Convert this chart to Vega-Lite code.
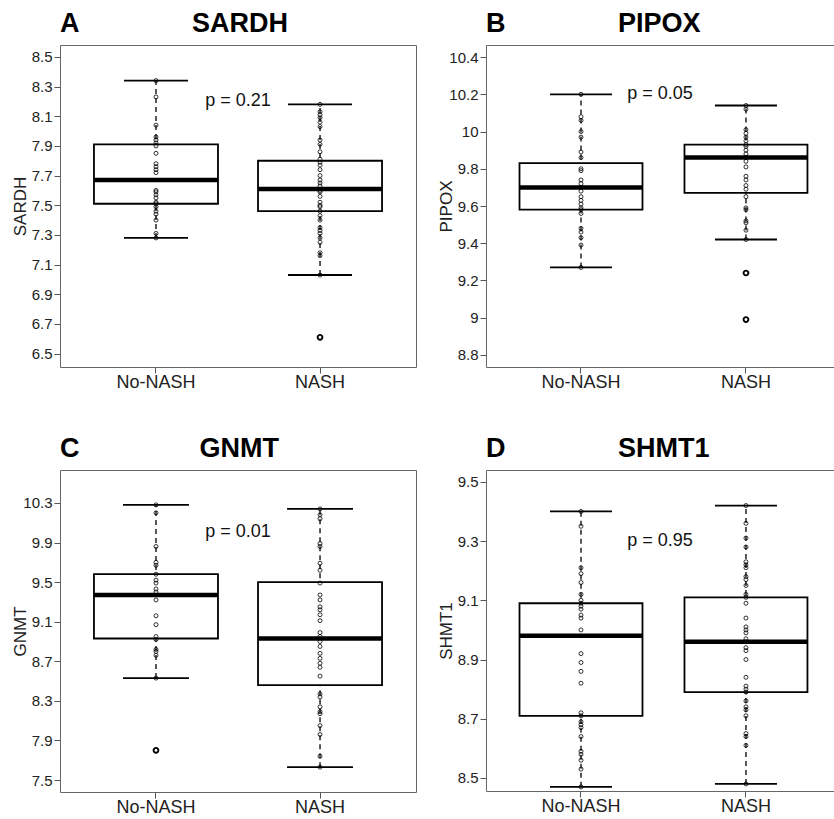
{
  "$schema": "https://vega.github.io/schema/vega-lite/v6.json",
  "padding": {"left": 10, "top": 9, "right": 0, "bottom": 0},
  "background": "white",
  "config": {
    "view": {"stroke": "#666666", "strokeWidth": 1},
    "font": "Liberation Sans",
    "tick": {"opacity": 1},
    "axis": {"grid": false, "domain": false, "tickColor": "#555555", "tickSize": 6, "tickWidth": 1, "labelColor": "#222222", "titleColor": "#222222", "labelFont": "Liberation Sans", "titleFont": "Liberation Sans"},
    "axisY": {"labelFontSize": 15, "labelPadding": 2, "titleFontSize": 17, "titleFontWeight": "normal"},
    "axisX": {"labelFontSize": 18, "labelAngle": 0, "labelPadding": 0},
    "title": {"fontSize": 27, "fontWeight": "bold", "anchor": "start", "frame": "group", "offset": 7, "color": "black", "font": "Liberation Sans"}
  },
  "datasets": {
    "box": [
      {"gene": "SARDH", "grp": "No-NASH", "lo": 7.28, "q1": 7.51, "med": 7.67, "q3": 7.91, "hi": 8.34},
      {"gene": "SARDH", "grp": "NASH", "lo": 7.03, "q1": 7.46, "med": 7.61, "q3": 7.80, "hi": 8.18},
      {"gene": "PIPOX", "grp": "No-NASH", "lo": 9.27, "q1": 9.58, "med": 9.70, "q3": 9.83, "hi": 10.20},
      {"gene": "PIPOX", "grp": "NASH", "lo": 9.42, "q1": 9.67, "med": 9.86, "q3": 9.93, "hi": 10.14},
      {"gene": "GNMT", "grp": "No-NASH", "lo": 8.53, "q1": 8.93, "med": 9.37, "q3": 9.58, "hi": 10.28},
      {"gene": "GNMT", "grp": "NASH", "lo": 7.63, "q1": 8.46, "med": 8.93, "q3": 9.50, "hi": 10.24},
      {"gene": "SHMT1", "grp": "No-NASH", "lo": 8.47, "q1": 8.71, "med": 8.98, "q3": 9.09, "hi": 9.40},
      {"gene": "SHMT1", "grp": "NASH", "lo": 8.48, "q1": 8.79, "med": 8.96, "q3": 9.11, "hi": 9.42}
    ],
    "outliers": [
      {"gene": "SARDH", "grp": "NASH", "v": 6.61},
      {"gene": "PIPOX", "grp": "NASH", "v": 9.24},
      {"gene": "PIPOX", "grp": "NASH", "v": 8.99},
      {"gene": "GNMT", "grp": "No-NASH", "v": 7.80}
    ],
    "pv": [
      {"gene": "SARDH", "y": 8.20, "label": "p = 0.21"},
      {"gene": "PIPOX", "y": 10.20, "label": "p = 0.05"},
      {"gene": "GNMT", "y": 10.01, "label": "p = 0.01"},
      {"gene": "SHMT1", "y": 9.30, "label": "p = 0.95"}
    ],
    "pts": [
      {"gene":"SARDH","grp":"No-NASH","v":8.34},{"gene":"SARDH","grp":"No-NASH","v":8.23},{"gene":"SARDH","grp":"No-NASH","v":8.04},{"gene":"SARDH","grp":"No-NASH","v":7.96},{"gene":"SARDH","grp":"No-NASH","v":7.94},{"gene":"SARDH","grp":"No-NASH","v":7.92},{"gene":"SARDH","grp":"No-NASH","v":7.90},{"gene":"SARDH","grp":"No-NASH","v":7.85},{"gene":"SARDH","grp":"No-NASH","v":7.78},{"gene":"SARDH","grp":"No-NASH","v":7.76},{"gene":"SARDH","grp":"No-NASH","v":7.74},{"gene":"SARDH","grp":"No-NASH","v":7.72},{"gene":"SARDH","grp":"No-NASH","v":7.60},{"gene":"SARDH","grp":"No-NASH","v":7.59},{"gene":"SARDH","grp":"No-NASH","v":7.57},{"gene":"SARDH","grp":"No-NASH","v":7.55},{"gene":"SARDH","grp":"No-NASH","v":7.52},{"gene":"SARDH","grp":"No-NASH","v":7.51},{"gene":"SARDH","grp":"No-NASH","v":7.49},{"gene":"SARDH","grp":"No-NASH","v":7.46},{"gene":"SARDH","grp":"No-NASH","v":7.44},{"gene":"SARDH","grp":"No-NASH","v":7.40},{"gene":"SARDH","grp":"No-NASH","v":7.31},{"gene":"SARDH","grp":"No-NASH","v":7.28},
      {"gene":"SARDH","grp":"NASH","v":8.18},{"gene":"SARDH","grp":"NASH","v":8.13},{"gene":"SARDH","grp":"NASH","v":8.11},{"gene":"SARDH","grp":"NASH","v":8.09},{"gene":"SARDH","grp":"NASH","v":8.06},{"gene":"SARDH","grp":"NASH","v":8.03},{"gene":"SARDH","grp":"NASH","v":7.94},{"gene":"SARDH","grp":"NASH","v":7.91},{"gene":"SARDH","grp":"NASH","v":7.86},{"gene":"SARDH","grp":"NASH","v":7.81},{"gene":"SARDH","grp":"NASH","v":7.79},{"gene":"SARDH","grp":"NASH","v":7.77},{"gene":"SARDH","grp":"NASH","v":7.74},{"gene":"SARDH","grp":"NASH","v":7.70},{"gene":"SARDH","grp":"NASH","v":7.67},{"gene":"SARDH","grp":"NASH","v":7.65},{"gene":"SARDH","grp":"NASH","v":7.63},{"gene":"SARDH","grp":"NASH","v":7.60},{"gene":"SARDH","grp":"NASH","v":7.59},{"gene":"SARDH","grp":"NASH","v":7.56},{"gene":"SARDH","grp":"NASH","v":7.52},{"gene":"SARDH","grp":"NASH","v":7.50},{"gene":"SARDH","grp":"NASH","v":7.49},{"gene":"SARDH","grp":"NASH","v":7.46},{"gene":"SARDH","grp":"NASH","v":7.43},{"gene":"SARDH","grp":"NASH","v":7.40},{"gene":"SARDH","grp":"NASH","v":7.35},{"gene":"SARDH","grp":"NASH","v":7.33},{"gene":"SARDH","grp":"NASH","v":7.31},{"gene":"SARDH","grp":"NASH","v":7.28},{"gene":"SARDH","grp":"NASH","v":7.25},{"gene":"SARDH","grp":"NASH","v":7.18},{"gene":"SARDH","grp":"NASH","v":7.16},{"gene":"SARDH","grp":"NASH","v":7.03},{"gene":"SARDH","grp":"NASH","v":6.61},
      {"gene":"PIPOX","grp":"No-NASH","v":10.20},{"gene":"PIPOX","grp":"No-NASH","v":10.08},{"gene":"PIPOX","grp":"No-NASH","v":10.06},{"gene":"PIPOX","grp":"No-NASH","v":10.00},{"gene":"PIPOX","grp":"No-NASH","v":9.97},{"gene":"PIPOX","grp":"No-NASH","v":9.89},{"gene":"PIPOX","grp":"No-NASH","v":9.86},{"gene":"PIPOX","grp":"No-NASH","v":9.80},{"gene":"PIPOX","grp":"No-NASH","v":9.79},{"gene":"PIPOX","grp":"No-NASH","v":9.74},{"gene":"PIPOX","grp":"No-NASH","v":9.72},{"gene":"PIPOX","grp":"No-NASH","v":9.70},{"gene":"PIPOX","grp":"No-NASH","v":9.68},{"gene":"PIPOX","grp":"No-NASH","v":9.65},{"gene":"PIPOX","grp":"No-NASH","v":9.63},{"gene":"PIPOX","grp":"No-NASH","v":9.61},{"gene":"PIPOX","grp":"No-NASH","v":9.59},{"gene":"PIPOX","grp":"No-NASH","v":9.58},{"gene":"PIPOX","grp":"No-NASH","v":9.56},{"gene":"PIPOX","grp":"No-NASH","v":9.48},{"gene":"PIPOX","grp":"No-NASH","v":9.46},{"gene":"PIPOX","grp":"No-NASH","v":9.43},{"gene":"PIPOX","grp":"No-NASH","v":9.39},{"gene":"PIPOX","grp":"No-NASH","v":9.27},
      {"gene":"PIPOX","grp":"NASH","v":10.14},{"gene":"PIPOX","grp":"NASH","v":10.12},{"gene":"PIPOX","grp":"NASH","v":10.01},{"gene":"PIPOX","grp":"NASH","v":9.99},{"gene":"PIPOX","grp":"NASH","v":9.97},{"gene":"PIPOX","grp":"NASH","v":9.95},{"gene":"PIPOX","grp":"NASH","v":9.93},{"gene":"PIPOX","grp":"NASH","v":9.92},{"gene":"PIPOX","grp":"NASH","v":9.90},{"gene":"PIPOX","grp":"NASH","v":9.88},{"gene":"PIPOX","grp":"NASH","v":9.86},{"gene":"PIPOX","grp":"NASH","v":9.84},{"gene":"PIPOX","grp":"NASH","v":9.81},{"gene":"PIPOX","grp":"NASH","v":9.76},{"gene":"PIPOX","grp":"NASH","v":9.74},{"gene":"PIPOX","grp":"NASH","v":9.71},{"gene":"PIPOX","grp":"NASH","v":9.69},{"gene":"PIPOX","grp":"NASH","v":9.65},{"gene":"PIPOX","grp":"NASH","v":9.59},{"gene":"PIPOX","grp":"NASH","v":9.58},{"gene":"PIPOX","grp":"NASH","v":9.52},{"gene":"PIPOX","grp":"NASH","v":9.51},{"gene":"PIPOX","grp":"NASH","v":9.47},{"gene":"PIPOX","grp":"NASH","v":9.42},{"gene":"PIPOX","grp":"NASH","v":9.24},{"gene":"PIPOX","grp":"NASH","v":8.99},
      {"gene":"GNMT","grp":"No-NASH","v":10.28},{"gene":"GNMT","grp":"No-NASH","v":10.20},{"gene":"GNMT","grp":"No-NASH","v":9.86},{"gene":"GNMT","grp":"No-NASH","v":9.70},{"gene":"GNMT","grp":"No-NASH","v":9.67},{"gene":"GNMT","grp":"No-NASH","v":9.58},{"gene":"GNMT","grp":"No-NASH","v":9.52},{"gene":"GNMT","grp":"No-NASH","v":9.49},{"gene":"GNMT","grp":"No-NASH","v":9.43},{"gene":"GNMT","grp":"No-NASH","v":9.40},{"gene":"GNMT","grp":"No-NASH","v":9.32},{"gene":"GNMT","grp":"No-NASH","v":9.16},{"gene":"GNMT","grp":"No-NASH","v":9.07},{"gene":"GNMT","grp":"No-NASH","v":8.95},{"gene":"GNMT","grp":"No-NASH","v":8.92},{"gene":"GNMT","grp":"No-NASH","v":8.82},{"gene":"GNMT","grp":"No-NASH","v":8.80},{"gene":"GNMT","grp":"No-NASH","v":8.76},{"gene":"GNMT","grp":"No-NASH","v":8.53},{"gene":"GNMT","grp":"No-NASH","v":7.80},
      {"gene":"GNMT","grp":"NASH","v":10.24},{"gene":"GNMT","grp":"NASH","v":10.18},{"gene":"GNMT","grp":"NASH","v":10.14},{"gene":"GNMT","grp":"NASH","v":9.89},{"gene":"GNMT","grp":"NASH","v":9.86},{"gene":"GNMT","grp":"NASH","v":9.69},{"gene":"GNMT","grp":"NASH","v":9.62},{"gene":"GNMT","grp":"NASH","v":9.49},{"gene":"GNMT","grp":"NASH","v":9.37},{"gene":"GNMT","grp":"NASH","v":9.32},{"gene":"GNMT","grp":"NASH","v":9.25},{"gene":"GNMT","grp":"NASH","v":9.22},{"gene":"GNMT","grp":"NASH","v":9.17},{"gene":"GNMT","grp":"NASH","v":9.11},{"gene":"GNMT","grp":"NASH","v":8.99},{"gene":"GNMT","grp":"NASH","v":8.95},{"gene":"GNMT","grp":"NASH","v":8.90},{"gene":"GNMT","grp":"NASH","v":8.85},{"gene":"GNMT","grp":"NASH","v":8.78},{"gene":"GNMT","grp":"NASH","v":8.73},{"gene":"GNMT","grp":"NASH","v":8.68},{"gene":"GNMT","grp":"NASH","v":8.64},{"gene":"GNMT","grp":"NASH","v":8.55},{"gene":"GNMT","grp":"NASH","v":8.37},{"gene":"GNMT","grp":"NASH","v":8.34},{"gene":"GNMT","grp":"NASH","v":8.24},{"gene":"GNMT","grp":"NASH","v":8.19},{"gene":"GNMT","grp":"NASH","v":8.17},{"gene":"GNMT","grp":"NASH","v":8.05},{"gene":"GNMT","grp":"NASH","v":7.96},{"gene":"GNMT","grp":"NASH","v":7.74},{"gene":"GNMT","grp":"NASH","v":7.63},
      {"gene":"SHMT1","grp":"No-NASH","v":9.40},{"gene":"SHMT1","grp":"No-NASH","v":9.35},{"gene":"SHMT1","grp":"No-NASH","v":9.21},{"gene":"SHMT1","grp":"No-NASH","v":9.19},{"gene":"SHMT1","grp":"No-NASH","v":9.16},{"gene":"SHMT1","grp":"No-NASH","v":9.12},{"gene":"SHMT1","grp":"No-NASH","v":9.10},{"gene":"SHMT1","grp":"No-NASH","v":9.09},{"gene":"SHMT1","grp":"No-NASH","v":9.08},{"gene":"SHMT1","grp":"No-NASH","v":9.07},{"gene":"SHMT1","grp":"No-NASH","v":9.05},{"gene":"SHMT1","grp":"No-NASH","v":9.04},{"gene":"SHMT1","grp":"No-NASH","v":9.00},{"gene":"SHMT1","grp":"No-NASH","v":8.92},{"gene":"SHMT1","grp":"No-NASH","v":8.89},{"gene":"SHMT1","grp":"No-NASH","v":8.86},{"gene":"SHMT1","grp":"No-NASH","v":8.82},{"gene":"SHMT1","grp":"No-NASH","v":8.72},{"gene":"SHMT1","grp":"No-NASH","v":8.71},{"gene":"SHMT1","grp":"No-NASH","v":8.69},{"gene":"SHMT1","grp":"No-NASH","v":8.68},{"gene":"SHMT1","grp":"No-NASH","v":8.67},{"gene":"SHMT1","grp":"No-NASH","v":8.64},{"gene":"SHMT1","grp":"No-NASH","v":8.59},{"gene":"SHMT1","grp":"No-NASH","v":8.58},{"gene":"SHMT1","grp":"No-NASH","v":8.56},{"gene":"SHMT1","grp":"No-NASH","v":8.53},{"gene":"SHMT1","grp":"No-NASH","v":8.47},
      {"gene":"SHMT1","grp":"NASH","v":9.42},{"gene":"SHMT1","grp":"NASH","v":9.36},{"gene":"SHMT1","grp":"NASH","v":9.31},{"gene":"SHMT1","grp":"NASH","v":9.28},{"gene":"SHMT1","grp":"NASH","v":9.23},{"gene":"SHMT1","grp":"NASH","v":9.22},{"gene":"SHMT1","grp":"NASH","v":9.21},{"gene":"SHMT1","grp":"NASH","v":9.18},{"gene":"SHMT1","grp":"NASH","v":9.17},{"gene":"SHMT1","grp":"NASH","v":9.15},{"gene":"SHMT1","grp":"NASH","v":9.12},{"gene":"SHMT1","grp":"NASH","v":9.11},{"gene":"SHMT1","grp":"NASH","v":9.09},{"gene":"SHMT1","grp":"NASH","v":9.04},{"gene":"SHMT1","grp":"NASH","v":9.01},{"gene":"SHMT1","grp":"NASH","v":9.00},{"gene":"SHMT1","grp":"NASH","v":8.99},{"gene":"SHMT1","grp":"NASH","v":8.97},{"gene":"SHMT1","grp":"NASH","v":8.96},{"gene":"SHMT1","grp":"NASH","v":8.94},{"gene":"SHMT1","grp":"NASH","v":8.93},{"gene":"SHMT1","grp":"NASH","v":8.90},{"gene":"SHMT1","grp":"NASH","v":8.84},{"gene":"SHMT1","grp":"NASH","v":8.81},{"gene":"SHMT1","grp":"NASH","v":8.80},{"gene":"SHMT1","grp":"NASH","v":8.79},{"gene":"SHMT1","grp":"NASH","v":8.76},{"gene":"SHMT1","grp":"NASH","v":8.74},{"gene":"SHMT1","grp":"NASH","v":8.73},{"gene":"SHMT1","grp":"NASH","v":8.71},{"gene":"SHMT1","grp":"NASH","v":8.65},{"gene":"SHMT1","grp":"NASH","v":8.64},{"gene":"SHMT1","grp":"NASH","v":8.61},{"gene":"SHMT1","grp":"NASH","v":8.48}
    ]
  },
  "concat": [
    {
      "width": 356, "height": 322,
      "title": {"text": "A\u00a0\u00a0\u00a0\u00a0\u00a0\u00a0\u00a0\u00a0\u00a0\u00a0\u00a0\u00a0\u00a0\u00a0\u00a0SARDH"},
      "resolve": {"scale": {"x": "independent"}, "axis": {"x": "independent"}},
      "layer": [
        {
          "encoding": {"x": {"field": "grp", "type": "nominal", "sort": ["No-NASH", "NASH"], "scale": {"domain": ["No-NASH", "NASH"], "paddingInner": 0.244, "paddingOuter": 0.207}, "axis": {"title": null}}},
          "layer": [
            {"data": {"name": "box"}, "transform": [{"filter": "datum.gene === 'SARDH'"}], "mark": {"type": "rule", "strokeDash": [5, 4], "strokeWidth": 1.3, "color": "black"},
             "encoding": {"y": {"field": "lo", "type": "quantitative", "scale": {"domain": [6.41, 8.58], "nice": false, "zero": false}, "axis": {"title": "SARDH", "values": [6.5, 6.7, 6.9, 7.1, 7.3, 7.5, 7.7, 7.9, 8.1, 8.3, 8.5], "format": ".1f", "titleX": -35, "titleBaseline": "alphabetic"}}, "y2": {"field": "hi"}}},
            {"data": {"name": "box"}, "transform": [{"filter": "datum.gene === 'SARDH'"}], "mark": {"type": "bar", "fill": "white", "stroke": "black", "strokeWidth": 1.8},
             "encoding": {"y": {"field": "q1", "type": "quantitative", "scale": {"domain": [6.41, 8.58], "nice": false, "zero": false}, "axis": {"title": "SARDH", "values": [6.5, 6.7, 6.9, 7.1, 7.3, 7.5, 7.7, 7.9, 8.1, 8.3, 8.5], "format": ".1f", "titleX": -35, "titleBaseline": "alphabetic"}}, "y2": {"field": "q3"}}},
            {"data": {"name": "box"}, "transform": [{"filter": "datum.gene === 'SARDH'"}], "mark": {"type": "tick", "size": 64, "thickness": 1.8, "color": "black", "opacity": 1},
             "encoding": {"y": {"field": "lo", "type": "quantitative", "scale": {"domain": [6.41, 8.58], "nice": false, "zero": false}, "axis": {"title": "SARDH", "values": [6.5, 6.7, 6.9, 7.1, 7.3, 7.5, 7.7, 7.9, 8.1, 8.3, 8.5], "format": ".1f", "titleX": -35, "titleBaseline": "alphabetic"}}}},
            {"data": {"name": "box"}, "transform": [{"filter": "datum.gene === 'SARDH'"}], "mark": {"type": "tick", "size": 64, "thickness": 1.8, "color": "black", "opacity": 1},
             "encoding": {"y": {"field": "hi", "type": "quantitative", "scale": {"domain": [6.41, 8.58], "nice": false, "zero": false}, "axis": {"title": "SARDH", "values": [6.5, 6.7, 6.9, 7.1, 7.3, 7.5, 7.7, 7.9, 8.1, 8.3, 8.5], "format": ".1f", "titleX": -35, "titleBaseline": "alphabetic"}}}},
            {"data": {"name": "box"}, "transform": [{"filter": "datum.gene === 'SARDH'"}], "mark": {"type": "tick", "size": 124, "thickness": 4.5, "color": "black", "opacity": 1},
             "encoding": {"y": {"field": "med", "type": "quantitative", "scale": {"domain": [6.41, 8.58], "nice": false, "zero": false}, "axis": {"title": "SARDH", "values": [6.5, 6.7, 6.9, 7.1, 7.3, 7.5, 7.7, 7.9, 8.1, 8.3, 8.5], "format": ".1f", "titleX": -35, "titleBaseline": "alphabetic"}}}},
            {"data": {"name": "pts"}, "transform": [{"filter": "datum.gene === 'SARDH'"}], "mark": {"type": "point", "shape": "circle", "filled": false, "size": 16, "strokeWidth": 0.8, "color": "black", "opacity": 1},
             "encoding": {"y": {"field": "v", "type": "quantitative", "scale": {"domain": [6.41, 8.58], "nice": false, "zero": false}, "axis": {"title": "SARDH", "values": [6.5, 6.7, 6.9, 7.1, 7.3, 7.5, 7.7, 7.9, 8.1, 8.3, 8.5], "format": ".1f", "titleX": -35, "titleBaseline": "alphabetic"}}}},
            {"data": {"name": "outliers"}, "transform": [{"filter": "datum.gene === 'SARDH'"}], "mark": {"type": "point", "shape": "circle", "filled": false, "size": 26, "strokeWidth": 1.6, "color": "black", "opacity": 1},
             "encoding": {"y": {"field": "v", "type": "quantitative", "scale": {"domain": [6.41, 8.58], "nice": false, "zero": false}, "axis": {"title": "SARDH", "values": [6.5, 6.7, 6.9, 7.1, 7.3, 7.5, 7.7, 7.9, 8.1, 8.3, 8.5], "format": ".1f", "titleX": -35, "titleBaseline": "alphabetic"}}}}
          ]
        },
        {"data": {"name": "pv"}, "transform": [{"filter": "datum.gene === 'SARDH'"}], "mark": {"type": "text", "fontSize": 18, "font": "Liberation Sans", "color": "#111111"},
         "encoding": {"x": {"datum": 0.5, "type": "quantitative", "scale": {"domain": [0, 1]}, "axis": null}, "y": {"field": "y", "type": "quantitative", "scale": {"domain": [6.41, 8.58], "nice": false, "zero": false}, "axis": {"title": "SARDH", "values": [6.5, 6.7, 6.9, 7.1, 7.3, 7.5, 7.7, 7.9, 8.1, 8.3, 8.5], "format": ".1f", "titleX": -35, "titleBaseline": "alphabetic"}}, "text": {"field": "label"}}}
      ]
    },
    {
      "width": 348, "height": 322,
      "title": {"text": "B\u00a0\u00a0\u00a0\u00a0\u00a0\u00a0\u00a0\u00a0\u00a0\u00a0\u00a0\u00a0\u00a0\u00a0\u00a0PIPOX"},
      "resolve": {"scale": {"x": "independent"}, "axis": {"x": "independent"}},
      "layer": [
        {
          "encoding": {"x": {"field": "grp", "type": "nominal", "sort": ["No-NASH", "NASH"], "scale": {"domain": ["No-NASH", "NASH"], "paddingInner": 0.2545, "paddingOuter": 0.182, "align": 0.558}, "axis": {"title": null}}},
          "layer": [
            {"data": {"name": "box"}, "transform": [{"filter": "datum.gene === 'PIPOX'"}], "mark": {"type": "rule", "strokeDash": [5, 4], "strokeWidth": 1.3, "color": "black"},
             "encoding": {"y": {"field": "lo", "type": "quantitative", "scale": {"domain": [8.735, 10.465], "nice": false, "zero": false}, "axis": {"title": "PIPOX", "values": [8.8, 9, 9.2, 9.4, 9.6, 9.8, 10, 10.2, 10.4], "format": ".1~f", "titleX": -35, "titleBaseline": "alphabetic"}}, "y2": {"field": "hi"}}},
            {"data": {"name": "box"}, "transform": [{"filter": "datum.gene === 'PIPOX'"}], "mark": {"type": "bar", "fill": "white", "stroke": "black", "strokeWidth": 1.8},
             "encoding": {"y": {"field": "q1", "type": "quantitative", "scale": {"domain": [8.735, 10.465], "nice": false, "zero": false}, "axis": {"title": "PIPOX", "values": [8.8, 9, 9.2, 9.4, 9.6, 9.8, 10, 10.2, 10.4], "format": ".1~f", "titleX": -35, "titleBaseline": "alphabetic"}}, "y2": {"field": "q3"}}},
            {"data": {"name": "box"}, "transform": [{"filter": "datum.gene === 'PIPOX'"}], "mark": {"type": "tick", "size": 62, "thickness": 1.8, "color": "black", "opacity": 1},
             "encoding": {"y": {"field": "lo", "type": "quantitative", "scale": {"domain": [8.735, 10.465], "nice": false, "zero": false}, "axis": {"title": "PIPOX", "values": [8.8, 9, 9.2, 9.4, 9.6, 9.8, 10, 10.2, 10.4], "format": ".1~f", "titleX": -35, "titleBaseline": "alphabetic"}}}},
            {"data": {"name": "box"}, "transform": [{"filter": "datum.gene === 'PIPOX'"}], "mark": {"type": "tick", "size": 62, "thickness": 1.8, "color": "black", "opacity": 1},
             "encoding": {"y": {"field": "hi", "type": "quantitative", "scale": {"domain": [8.735, 10.465], "nice": false, "zero": false}, "axis": {"title": "PIPOX", "values": [8.8, 9, 9.2, 9.4, 9.6, 9.8, 10, 10.2, 10.4], "format": ".1~f", "titleX": -35, "titleBaseline": "alphabetic"}}}},
            {"data": {"name": "box"}, "transform": [{"filter": "datum.gene === 'PIPOX'"}], "mark": {"type": "tick", "size": 123, "thickness": 4.5, "color": "black", "opacity": 1},
             "encoding": {"y": {"field": "med", "type": "quantitative", "scale": {"domain": [8.735, 10.465], "nice": false, "zero": false}, "axis": {"title": "PIPOX", "values": [8.8, 9, 9.2, 9.4, 9.6, 9.8, 10, 10.2, 10.4], "format": ".1~f", "titleX": -35, "titleBaseline": "alphabetic"}}}},
            {"data": {"name": "pts"}, "transform": [{"filter": "datum.gene === 'PIPOX'"}], "mark": {"type": "point", "shape": "circle", "filled": false, "size": 16, "strokeWidth": 0.8, "color": "black", "opacity": 1},
             "encoding": {"y": {"field": "v", "type": "quantitative", "scale": {"domain": [8.735, 10.465], "nice": false, "zero": false}, "axis": {"title": "PIPOX", "values": [8.8, 9, 9.2, 9.4, 9.6, 9.8, 10, 10.2, 10.4], "format": ".1~f", "titleX": -35, "titleBaseline": "alphabetic"}}}},
            {"data": {"name": "outliers"}, "transform": [{"filter": "datum.gene === 'PIPOX'"}], "mark": {"type": "point", "shape": "circle", "filled": false, "size": 26, "strokeWidth": 1.6, "color": "black", "opacity": 1},
             "encoding": {"y": {"field": "v", "type": "quantitative", "scale": {"domain": [8.735, 10.465], "nice": false, "zero": false}, "axis": {"title": "PIPOX", "values": [8.8, 9, 9.2, 9.4, 9.6, 9.8, 10, 10.2, 10.4], "format": ".1~f", "titleX": -35, "titleBaseline": "alphabetic"}}}}
          ]
        },
        {"data": {"name": "pv"}, "transform": [{"filter": "datum.gene === 'PIPOX'"}], "mark": {"type": "text", "fontSize": 18, "font": "Liberation Sans", "color": "#111111"},
         "encoding": {"x": {"datum": 0.5, "type": "quantitative", "scale": {"domain": [0, 1]}, "axis": null}, "y": {"field": "y", "type": "quantitative", "scale": {"domain": [8.735, 10.465], "nice": false, "zero": false}, "axis": {"title": "PIPOX", "values": [8.8, 9, 9.2, 9.4, 9.6, 9.8, 10, 10.2, 10.4], "format": ".1~f", "titleX": -35, "titleBaseline": "alphabetic"}}, "text": {"field": "label"}}}
      ]
    },
    {
      "width": 356, "height": 322,
      "title": {"text": "C\u00a0\u00a0\u00a0\u00a0\u00a0\u00a0\u00a0\u00a0\u00a0\u00a0\u00a0\u00a0\u00a0\u00a0\u00a0\u00a0GNMT"},
      "resolve": {"scale": {"x": "independent"}, "axis": {"x": "independent"}},
      "layer": [
        {
          "encoding": {"x": {"field": "grp", "type": "nominal", "sort": ["No-NASH", "NASH"], "scale": {"domain": ["No-NASH", "NASH"], "paddingInner": 0.244, "paddingOuter": 0.207}, "axis": {"title": null}}},
          "layer": [
            {"data": {"name": "box"}, "transform": [{"filter": "datum.gene === 'GNMT'"}], "mark": {"type": "rule", "strokeDash": [5, 4], "strokeWidth": 1.3, "color": "black"},
             "encoding": {"y": {"field": "lo", "type": "quantitative", "scale": {"domain": [7.379, 10.633], "nice": false, "zero": false}, "axis": {"title": "GNMT", "values": [7.5, 7.9, 8.3, 8.7, 9.1, 9.5, 9.9, 10.3], "format": ".1f", "titleX": -35, "titleBaseline": "alphabetic"}}, "y2": {"field": "hi"}}},
            {"data": {"name": "box"}, "transform": [{"filter": "datum.gene === 'GNMT'"}], "mark": {"type": "bar", "fill": "white", "stroke": "black", "strokeWidth": 1.8},
             "encoding": {"y": {"field": "q1", "type": "quantitative", "scale": {"domain": [7.379, 10.633], "nice": false, "zero": false}, "axis": {"title": "GNMT", "values": [7.5, 7.9, 8.3, 8.7, 9.1, 9.5, 9.9, 10.3], "format": ".1f", "titleX": -35, "titleBaseline": "alphabetic"}}, "y2": {"field": "q3"}}},
            {"data": {"name": "box"}, "transform": [{"filter": "datum.gene === 'GNMT'"}], "mark": {"type": "tick", "size": 66, "thickness": 1.8, "color": "black", "opacity": 1},
             "encoding": {"y": {"field": "lo", "type": "quantitative", "scale": {"domain": [7.379, 10.633], "nice": false, "zero": false}, "axis": {"title": "GNMT", "values": [7.5, 7.9, 8.3, 8.7, 9.1, 9.5, 9.9, 10.3], "format": ".1f", "titleX": -35, "titleBaseline": "alphabetic"}}}},
            {"data": {"name": "box"}, "transform": [{"filter": "datum.gene === 'GNMT'"}], "mark": {"type": "tick", "size": 66, "thickness": 1.8, "color": "black", "opacity": 1},
             "encoding": {"y": {"field": "hi", "type": "quantitative", "scale": {"domain": [7.379, 10.633], "nice": false, "zero": false}, "axis": {"title": "GNMT", "values": [7.5, 7.9, 8.3, 8.7, 9.1, 9.5, 9.9, 10.3], "format": ".1f", "titleX": -35, "titleBaseline": "alphabetic"}}}},
            {"data": {"name": "box"}, "transform": [{"filter": "datum.gene === 'GNMT'"}], "mark": {"type": "tick", "size": 124, "thickness": 4.5, "color": "black", "opacity": 1},
             "encoding": {"y": {"field": "med", "type": "quantitative", "scale": {"domain": [7.379, 10.633], "nice": false, "zero": false}, "axis": {"title": "GNMT", "values": [7.5, 7.9, 8.3, 8.7, 9.1, 9.5, 9.9, 10.3], "format": ".1f", "titleX": -35, "titleBaseline": "alphabetic"}}}},
            {"data": {"name": "pts"}, "transform": [{"filter": "datum.gene === 'GNMT'"}], "mark": {"type": "point", "shape": "circle", "filled": false, "size": 16, "strokeWidth": 0.8, "color": "black", "opacity": 1},
             "encoding": {"y": {"field": "v", "type": "quantitative", "scale": {"domain": [7.379, 10.633], "nice": false, "zero": false}, "axis": {"title": "GNMT", "values": [7.5, 7.9, 8.3, 8.7, 9.1, 9.5, 9.9, 10.3], "format": ".1f", "titleX": -35, "titleBaseline": "alphabetic"}}}},
            {"data": {"name": "outliers"}, "transform": [{"filter": "datum.gene === 'GNMT'"}], "mark": {"type": "point", "shape": "circle", "filled": false, "size": 26, "strokeWidth": 1.6, "color": "black", "opacity": 1},
             "encoding": {"y": {"field": "v", "type": "quantitative", "scale": {"domain": [7.379, 10.633], "nice": false, "zero": false}, "axis": {"title": "GNMT", "values": [7.5, 7.9, 8.3, 8.7, 9.1, 9.5, 9.9, 10.3], "format": ".1f", "titleX": -35, "titleBaseline": "alphabetic"}}}}
          ]
        },
        {"data": {"name": "pv"}, "transform": [{"filter": "datum.gene === 'GNMT'"}], "mark": {"type": "text", "fontSize": 18, "font": "Liberation Sans", "color": "#111111"},
         "encoding": {"x": {"datum": 0.5, "type": "quantitative", "scale": {"domain": [0, 1]}, "axis": null}, "y": {"field": "y", "type": "quantitative", "scale": {"domain": [7.379, 10.633], "nice": false, "zero": false}, "axis": {"title": "GNMT", "values": [7.5, 7.9, 8.3, 8.7, 9.1, 9.5, 9.9, 10.3], "format": ".1f", "titleX": -35, "titleBaseline": "alphabetic"}}, "text": {"field": "label"}}}
      ]
    },
    {
      "width": 348, "height": 321,
      "title": {"text": "D\u00a0\u00a0\u00a0\u00a0\u00a0\u00a0\u00a0\u00a0\u00a0\u00a0\u00a0\u00a0\u00a0\u00a0\u00a0SHMT1"},
      "resolve": {"scale": {"x": "independent"}, "axis": {"x": "independent"}},
      "layer": [
        {
          "encoding": {"x": {"field": "grp", "type": "nominal", "sort": ["No-NASH", "NASH"], "scale": {"domain": ["No-NASH", "NASH"], "paddingInner": 0.2545, "paddingOuter": 0.182, "align": 0.558}, "axis": {"title": null}}},
          "layer": [
            {"data": {"name": "box"}, "transform": [{"filter": "datum.gene === 'SHMT1'"}], "mark": {"type": "rule", "strokeDash": [5, 4], "strokeWidth": 1.3, "color": "black"},
             "encoding": {"y": {"field": "lo", "type": "quantitative", "scale": {"domain": [8.456, 9.54], "nice": false, "zero": false}, "axis": {"title": "SHMT1", "values": [8.5, 8.7, 8.9, 9.1, 9.3, 9.5], "format": ".1f", "titleX": -35, "titleBaseline": "alphabetic"}}, "y2": {"field": "hi"}}},
            {"data": {"name": "box"}, "transform": [{"filter": "datum.gene === 'SHMT1'"}], "mark": {"type": "bar", "fill": "white", "stroke": "black", "strokeWidth": 1.8},
             "encoding": {"y": {"field": "q1", "type": "quantitative", "scale": {"domain": [8.456, 9.54], "nice": false, "zero": false}, "axis": {"title": "SHMT1", "values": [8.5, 8.7, 8.9, 9.1, 9.3, 9.5], "format": ".1f", "titleX": -35, "titleBaseline": "alphabetic"}}, "y2": {"field": "q3"}}},
            {"data": {"name": "box"}, "transform": [{"filter": "datum.gene === 'SHMT1'"}], "mark": {"type": "tick", "size": 62, "thickness": 1.8, "color": "black", "opacity": 1},
             "encoding": {"y": {"field": "lo", "type": "quantitative", "scale": {"domain": [8.456, 9.54], "nice": false, "zero": false}, "axis": {"title": "SHMT1", "values": [8.5, 8.7, 8.9, 9.1, 9.3, 9.5], "format": ".1f", "titleX": -35, "titleBaseline": "alphabetic"}}}},
            {"data": {"name": "box"}, "transform": [{"filter": "datum.gene === 'SHMT1'"}], "mark": {"type": "tick", "size": 62, "thickness": 1.8, "color": "black", "opacity": 1},
             "encoding": {"y": {"field": "hi", "type": "quantitative", "scale": {"domain": [8.456, 9.54], "nice": false, "zero": false}, "axis": {"title": "SHMT1", "values": [8.5, 8.7, 8.9, 9.1, 9.3, 9.5], "format": ".1f", "titleX": -35, "titleBaseline": "alphabetic"}}}},
            {"data": {"name": "box"}, "transform": [{"filter": "datum.gene === 'SHMT1'"}], "mark": {"type": "tick", "size": 123, "thickness": 4.5, "color": "black", "opacity": 1},
             "encoding": {"y": {"field": "med", "type": "quantitative", "scale": {"domain": [8.456, 9.54], "nice": false, "zero": false}, "axis": {"title": "SHMT1", "values": [8.5, 8.7, 8.9, 9.1, 9.3, 9.5], "format": ".1f", "titleX": -35, "titleBaseline": "alphabetic"}}}},
            {"data": {"name": "pts"}, "transform": [{"filter": "datum.gene === 'SHMT1'"}], "mark": {"type": "point", "shape": "circle", "filled": false, "size": 16, "strokeWidth": 0.8, "color": "black", "opacity": 1},
             "encoding": {"y": {"field": "v", "type": "quantitative", "scale": {"domain": [8.456, 9.54], "nice": false, "zero": false}, "axis": {"title": "SHMT1", "values": [8.5, 8.7, 8.9, 9.1, 9.3, 9.5], "format": ".1f", "titleX": -35, "titleBaseline": "alphabetic"}}}}
          ]
        },
        {"data": {"name": "pv"}, "transform": [{"filter": "datum.gene === 'SHMT1'"}], "mark": {"type": "text", "fontSize": 18, "font": "Liberation Sans", "color": "#111111"},
         "encoding": {"x": {"datum": 0.5, "type": "quantitative", "scale": {"domain": [0, 1]}, "axis": null}, "y": {"field": "y", "type": "quantitative", "scale": {"domain": [8.456, 9.54], "nice": false, "zero": false}, "axis": {"title": "SHMT1", "values": [8.5, 8.7, 8.9, 9.1, 9.3, 9.5], "format": ".1f", "titleX": -35, "titleBaseline": "alphabetic"}}, "text": {"field": "label"}}}
      ]
    }
  ],
  "columns": 2,
  "spacing": {"row": 103, "column": 70},
  "bounds": "flush"
}
